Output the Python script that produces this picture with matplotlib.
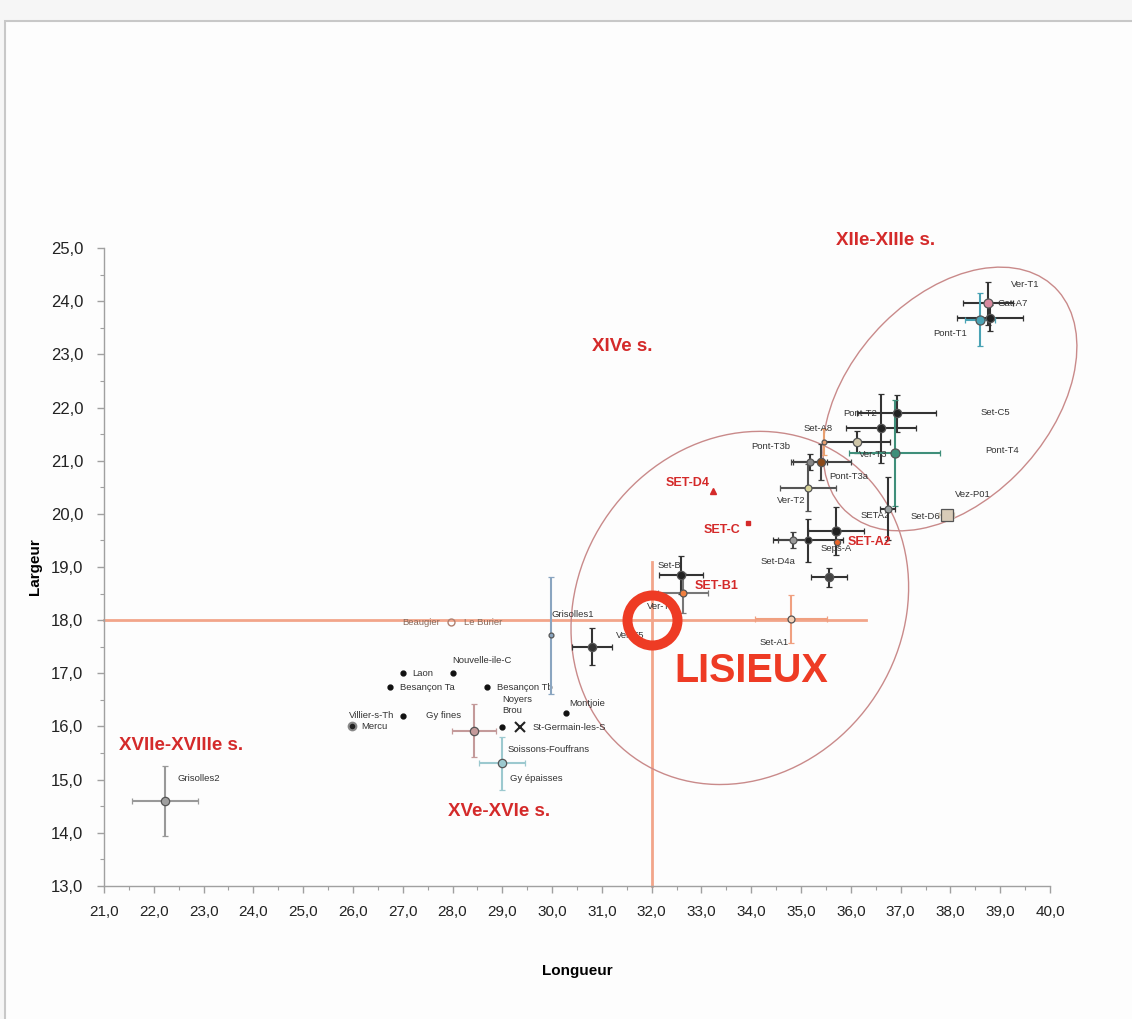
import numpy as np
import matplotlib
matplotlib.use("Agg")
import matplotlib.pyplot as plt
from matplotlib.patches import Ellipse, Rectangle
from matplotlib.ticker import MultipleLocator, FuncFormatter

# --- données : échantillons avec barres d'erreur (longueur, largeur) ---
err_names = ["Gat-A7", "Ver-T1", "Pont-T1",
             "Pont-T2", "Pont-T2b", "Set-A9", "Set-A8", "Ver-T3",
             "Pont-T3b", "Pont-T3a", "Ver-T2", "SETA2", "Set-D6",
             "Seps-A", "SET-A2", "Set-D4b", "Set-D4a", "Set-E", "Set-A1",
             "Set-B", "SET-B1", "Ver-T5", "Grisolles1", "Gy fines",
             "Gy épaisses", "Grisolles2"]
err_x = [38.76, 38.79, 38.59,
         36.92, 36.60, 36.12, 35.46, 36.88,
         35.18, 35.40, 35.14, 36.74, 37.93,
         35.70, 35.72, 35.14, 34.84, 35.56, 34.80,
         32.59, 32.63, 30.80, 29.98, 28.43,
         28.99, 22.22]
err_y = [23.96, 23.68, 23.65,
         21.89, 21.61, 21.35, 21.35, 21.14,
         20.97, 20.97, 20.49, 20.10, 19.98,
         19.68, 19.47, 19.50, 19.50, 18.81, 18.02,
         18.85, 18.51, 17.50, 17.72, 15.92,
         15.31, 14.60]
err_dx = [0.50, 0.66, 0.30,
          0.80, 0.70, 0.66, 0.00, 0.92,
          0.35, 0.60, 0.56, 0.15, 0.15,
          0.56, 0.00, 0.70, 0.30, 0.36, 0.72,
          0.45, 0.50, 0.41, 0.00, 0.45,
          0.46, 0.66]
err_dy = [0.40, 0.25, 0.50,
          0.35, 0.65, 0.20, 0.25, 1.00,
          0.15, 0.34, 0.44, 0.60, 0.00,
          0.45, 0.00, 0.40, 0.15, 0.18, 0.45,
          0.35, 0.38, 0.35, 1.10, 0.50,
          0.50, 0.66]

# --- points simples ---
dot_names = ["Laon", "Nouvelle-ile-C", "Besançon Ta", "Besançon Tb",
             "Villier-s-Th", "Noyers\nBrou", "Montjoie"]
dot_x = [27.00, 28.00, 26.74, 28.69, 27.00, 29.00, 30.28]
dot_y = [17.00, 17.00, 16.74, 16.74, 16.20, 15.99, 16.25]

# --- échantillons SET isolés ---
set_names = ["SET-D4", "SET-C"]
set_x = [33.23, 33.93]
set_y = [20.43, 19.83]

# --- Lisieux ---
lisieux_x = 32.0
lisieux_y = 18.0

# --- regroupements chronologiques ---
periods = ["XIIe-XIIIe s.", "XIVe s.", "XVIIe-XVIIIe s.", "XVe-XVIe s."]
period_x = [35.7, 30.8, 21.3, 27.9]
period_y = [25.15, 23.15, 15.65, 14.4]

# styles des points à barres d'erreur
err_face = ["#d98aa0", "#222222", "#4aa3b5",
            "#222222", "#222222", "#cfc6a8", "#e8a070", "#3f8f7a",
            "#888888", "#8a4a1a", "#d8d49a", "#9aa0a0", "#d8cbb8",
            "#222222", "#e8642a", "#222222", "#999999", "#444444", "#f3d2b8",
            "#222222", "#f08040", "#333333", "#8aa5c0", "#c49a9a",
            "#9cc9cf", "#a0a0a0"]
err_line = ["#333333", "#333333", "#4aa3b5",
            "#333333", "#333333", "#333333", "#e8a070", "#3f8f7a",
            "#333333", "#444444", "#555555", "#333333", "#d8cbb8",
            "#333333", "#e8642a", "#333333", "#444444", "#333333", "#f0a080",
            "#333333", "#777777", "#333333", "#8aa5c0", "#c49a9a",
            "#9cc9cf", "#999999"]
err_ms = [6.5, 6, 6.5, 6, 6, 6, 3.5, 6.5, 5, 6, 5, 5, 8, 6.5, 4.5, 5, 5, 6, 5, 6, 5, 6, 3.5, 6, 6, 6]
err_mk = ["o"] * 12 + ["s"] + ["o"] * 13

# positions des étiquettes (décalage en points, alignement)
err_lab = {
    "Gat-A7": (7, 0, "left"), "Ver-T1": (15, 24, "left"),
    "Pont-T1": (-9, -10, "right"), "Pont-T2": (-14, 0, "right"),
    "Set-A8": (-4, 10, "center"), "Ver-T3": (-5, -1, "right"),
    "Pont-T3b": (-14, 11, "right"), "Pont-T3a": (6, -10, "left"),
    "Ver-T2": (-2, -9, "right"), "SETA2": (2, -5, "right"),
    "Set-D6": (-5, -1, "right"), "Seps-A": (0, -13, "center"),
    "Set-D4a": (-11, -15, "center"), "Set-A1": (-2, -17, "right"),
    "Set-B": (0, 7, "right"), "Ver-T5": (17, 8, "left"),
    "Grisolles1": (0, 15, "left"), "Gy fines": (-9, 11, "right"),
    "Gy épaisses": (6, -11, "left"), "Grisolles2": (9, 16, "left"),
}
dot_lab = {
    "Laon": (7, 0, "left"), "Nouvelle-ile-C": (0, 9, "left"),
    "Besançon Ta": (7, 0, "left"), "Besançon Tb": (7, 0, "left"),
    "Villier-s-Th": (-6, 0, "right"), "Noyers\nBrou": (0, 16, "left"),
    "Montjoie": (2, 7, "left"),
}

RED = "#d42a2a"
LIS = "#ee3b24"
SALMON = "#f2a58a"
SMALL = 6.8

plt.rcParams["font.family"] = ["Liberation Sans", "DejaVu Sans"]

fig = plt.figure(figsize=(11.32, 10.19), dpi=100, facecolor="#f6f6f6")
# page blanche avec un cadre gris
fig.patches.append(Rectangle((5 / 1132, -0.01), 1.0, 1 - 21 / 1019 + 0.01,
                             transform=fig.transFigure, facecolor="#fdfdfd",
                             edgecolor="#c8c8c8", linewidth=1.5, zorder=-5))

ax = fig.add_axes([104 / 1132, 1 - 886 / 1019, 946 / 1132, 638 / 1019])
ax.set_zorder(2)
ax.set_facecolor("none")
ax.set_xlim(21, 40)
ax.set_ylim(13, 25)
for s in ("top", "right"):
    ax.spines[s].set_visible(False)
for s in ("left", "bottom"):
    ax.spines[s].set_color("#a0a0a0")
    ax.spines[s].set_linewidth(1.0)

ax.xaxis.set_major_locator(MultipleLocator(1))
ax.xaxis.set_minor_locator(MultipleLocator(0.5))
ax.yaxis.set_major_locator(MultipleLocator(1))
ax.yaxis.set_minor_locator(MultipleLocator(0.5))
comma = FuncFormatter(lambda v, p: f"{v:.1f}".replace(".", ","))
ax.xaxis.set_major_formatter(comma)
ax.yaxis.set_major_formatter(comma)
ax.tick_params(which="both", direction="out", color="#a0a0a0")
ax.tick_params(which="major", length=5, width=1)
ax.tick_params(which="minor", length=3, width=0.8)
ax.tick_params(axis="y", labelsize=12, pad=10, labelcolor="#222222")
ax.tick_params(axis="x", labelsize=11, pad=9, labelcolor="#222222")

ax.set_xlabel("Longueur", fontsize=11, fontweight="bold", labelpad=32)
ax.set_ylabel("Largeur", fontsize=11, fontweight="bold", labelpad=6)

# repères de Lisieux
ax.plot([21, 36.3], [lisieux_y, lisieux_y], color=SALMON, lw=2, zorder=1, clip_on=False)
ax.plot([lisieux_x, lisieux_x], [13, 19.1], color=SALMON, lw=2, zorder=1, clip_on=False)

# ellipses de regroupement
ax.add_patch(Ellipse((33.77, 18.23), 7.1, 6.3, angle=40, fill=False,
                     edgecolor="#c98a8a", lw=1.0, zorder=1, clip_on=False))
ax.add_patch(Ellipse((37.99, 22.16), 5.95, 3.9, angle=43, fill=False,
                     edgecolor="#c98a8a", lw=1.0, zorder=1, clip_on=False))

# points avec barres d'erreur
for i, name in enumerate(err_names):
    ax.errorbar(err_x[i], err_y[i],
                xerr=err_dx[i] if err_dx[i] > 0 else None,
                yerr=err_dy[i] if err_dy[i] > 0 else None,
                fmt=err_mk[i], ms=err_ms[i], mfc=err_face[i], mec="#555555",
                mew=0.9, ecolor=err_line[i], elinewidth=1.5, capsize=2.5,
                capthick=1.1, zorder=4)
    if name in err_lab:
        dx, dy, ha = err_lab[name]
        ax.annotate(name, (err_x[i], err_y[i]), xytext=(dx, dy),
                    textcoords="offset points", ha=ha, va="center",
                    fontsize=SMALL, color="#333333", zorder=6)

# SET-A2 et SET-B1 en rouge
for name, dx, dy in [("SET-A2", 8, 0), ("SET-B1", 8, 5)]:
    i = err_names.index(name)
    ax.annotate(name, (err_x[i], err_y[i]), xytext=(dx, dy),
                textcoords="offset points", ha="left", va="center",
                fontsize=9, fontweight="bold", color=RED, zorder=6)

# petits points noirs
ax.plot(dot_x, dot_y, "o", ms=3.5, color="#111111", zorder=4)
for name, x, y in zip(dot_names, dot_x, dot_y):
    dx, dy, ha = dot_lab[name]
    ax.annotate(name, (x, y), xytext=(dx, dy), textcoords="offset points",
                ha=ha, va="center", fontsize=SMALL, color="#333333",
                linespacing=1.3)

# Mercu, St-Germain, Beaugier / Le Burier
ax.plot(25.98, 16.0, "o", ms=5.5, mfc="#222222", mec="#888888", mew=1.5, zorder=4)
ax.annotate("Mercu", (25.98, 16.0), xytext=(7, 0), textcoords="offset points",
            va="center", fontsize=SMALL, color="#333333")
ax.plot(29.36, 15.99, "x", ms=7, mew=1.5, color="#222222", zorder=4)
ax.annotate("St-Germain-les-S", (29.36, 15.99), xytext=(9, 0),
            textcoords="offset points", va="center", fontsize=SMALL, color="#333333")
ax.annotate("Soissons-Fouffrans", (28.99, 15.31), xytext=(4, 10),
            textcoords="offset points", va="center", fontsize=SMALL, color="#333333")
ax.plot(27.97, 17.96, "o", ms=5, mfc="none", mec="#b08070", mew=1, zorder=4)
ax.annotate("Beaugier", (27.97, 17.96), xytext=(-8, 0), textcoords="offset points",
            ha="right", va="center", fontsize=SMALL, color="#8a6a5a")
ax.annotate("Le Burier", (27.97, 17.96), xytext=(9, 0), textcoords="offset points",
            ha="left", va="center", fontsize=SMALL, color="#8a6a5a")

# étiquettes sans point visible
for name, x, y in [("Set-C5", 38.6, 21.9), ("Pont-T4", 38.7, 21.2),
                   ("Vez-P01", 38.1, 20.37), ("Ver-T4", 31.9, 18.25)]:
    ax.text(x, y, name, fontsize=SMALL, color="#333333", va="center", zorder=3)

# SET-D4, SET-C
ax.plot(set_x[0], set_y[0], "^", ms=5, color=RED, zorder=4)
ax.plot(set_x[1], set_y[1], "s", ms=3.5, color=RED, zorder=4)
ax.annotate("SET-D4", (set_x[0], set_y[0]), xytext=(-2, 6), textcoords="offset points",
            ha="right", va="center", fontsize=9, fontweight="bold", color=RED)
ax.annotate("SET-C", (set_x[1], set_y[1]), xytext=(-5, -5), textcoords="offset points",
            ha="right", va="center", fontsize=9, fontweight="bold", color=RED)

# Lisieux
ax.plot(lisieux_x, lisieux_y, "o", ms=36, mfc="none", mec=LIS, mew=7.2, zorder=8)
ax.text(32.45, 17.05, "LISIEUX", fontsize=28.5, fontweight="bold", color=LIS,
        va="center", ha="left", zorder=8)

# périodes
for name, x, y in zip(periods, period_x, period_y):
    ax.text(x, y, name, fontsize=13.5, fontweight="bold", color=RED,
            va="center", ha="left", clip_on=False)

fig.savefig("out.png", dpi=100, facecolor=fig.get_facecolor())
